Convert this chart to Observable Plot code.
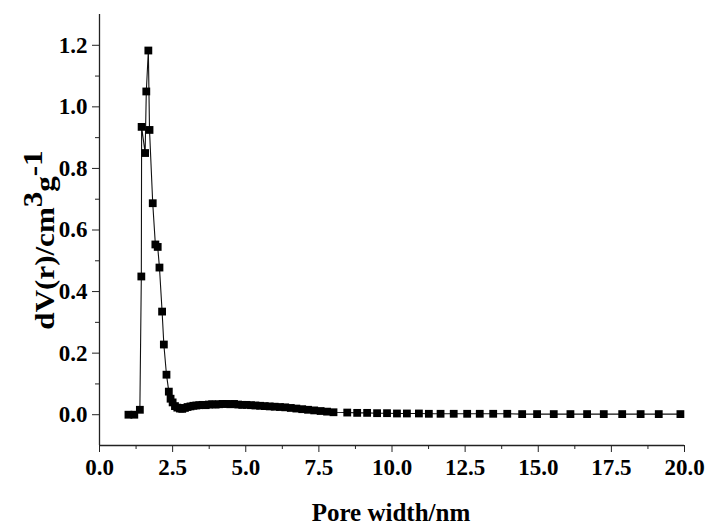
<!DOCTYPE html>
<html><head><meta charset="utf-8">
<script src="https://cdn.jsdelivr.net/npm/d3@7"></script>
<script src="https://cdn.jsdelivr.net/npm/@observablehq/plot@0.6"></script>
<style>body{margin:0;background:#fff} svg{display:block}</style>
</head><body><div id="chart"></div>
<script>
const poreWidth = [0.99, 1.19, 1.38, 1.43, 1.44, 1.56, 1.60, 1.67, 1.71, 1.82, 1.91, 1.99, 2.05, 2.14, 2.20, 2.29, 2.37, 2.43,
  2.50, 2.58, 2.66, 2.75, 2.83, 2.92, 3.01, 3.11, 3.21, 3.31, 3.41, 3.52, 3.63, 3.74, 3.85, 3.97, 4.09, 4.21, 4.34, 4.47, 4.60,
  4.74, 4.88, 5.03, 5.18, 5.33, 5.49, 5.65, 5.82, 5.99, 6.17, 6.35, 6.54, 6.73, 6.93, 7.13, 7.34, 7.56, 7.78, 8.00,
  8.47, 8.81, 9.15, 9.49, 9.83, 10.17, 10.51, 10.92, 11.26, 11.66, 12.11, 12.57, 13.00, 13.46, 13.94, 14.45, 14.96,
  15.53, 16.10, 16.67, 17.24, 17.87, 18.50, 19.12, 19.86];
const dV = [0.000, 0.000, 0.016, 0.449, 0.935, 0.850, 1.050, 1.183, 0.925, 0.687, 0.553, 0.545, 0.478, 0.335, 0.228, 0.130, 0.075, 0.052,
  0.040, 0.028, 0.023, 0.020, 0.019, 0.022, 0.025, 0.027, 0.029, 0.030, 0.031, 0.032, 0.031, 0.033, 0.034, 0.033, 0.034, 0.035, 0.035, 0.034, 0.035,
  0.033, 0.032, 0.032, 0.031, 0.030, 0.029, 0.028, 0.027, 0.026, 0.025, 0.024, 0.022, 0.020, 0.018, 0.016, 0.014, 0.012, 0.010, 0.008,
  0.007, 0.006, 0.006, 0.005, 0.005, 0.004, 0.004, 0.004, 0.003, 0.003, 0.003, 0.003, 0.003, 0.003, 0.003, 0.002, 0.002,
  0.002, 0.002, 0.002, 0.002, 0.002, 0.002, 0.002, 0.002];
const xTicks = [0, 2.5, 5, 7.5, 10, 12.5, 15, 17.5, 20];
const xMinorTicks = [1.25, 3.75, 6.25, 8.75, 11.25, 13.75, 16.25, 18.75];
const yTicks = [0, 0.2, 0.4, 0.6, 0.8, 1.0, 1.2];
const yMinorTicks = [0.1, 0.3, 0.5, 0.7, 0.9, 1.1];
const xLabel = "Pore width/nm";
const yLabelParts = ["dV(r)/cm", "3", "g", "-1"];

const data = poreWidth.map((x, i) => ({x, y: dV[i]}));
const font = "'Liberation Serif', 'Times New Roman', serif";
const fmt = d3.format(".1f");

const plot = Plot.plot({
  width: 710, height: 527,
  marginLeft: 99, marginRight: 26, marginTop: 14, marginBottom: 82,
  style: {fontFamily: font, background: "#fff", color: "#000"},
  x: {domain: [0, 20]},
  y: {domain: [-0.1, 1.3]},
  marks: [
    Plot.axisX(xTicks, {tickSize: 7, tickPadding: 6, tickFormat: fmt, fontSize: 23, fontWeight: "bold", label: null, stroke: "#222"}),
    Plot.axisX(xMinorTicks, {tickSize: 4, tickFormat: () => "", label: null, stroke: "#222"}),
    Plot.axisY(yTicks, {tickSize: 7, tickPadding: 5, tickFormat: fmt, fontSize: 23, fontWeight: "bold", label: null, stroke: "#222"}),
    Plot.axisY(yMinorTicks, {tickSize: 4, tickFormat: () => "", label: null, stroke: "#222"}),
    Plot.ruleX([0], {stroke: "#222", strokeWidth: 1.3}),
    Plot.ruleY([-0.1], {stroke: "#222", strokeWidth: 1.3}),
    Plot.line(data, {x: "x", y: "y", stroke: "#111", strokeWidth: 1.1}),
    Plot.dot(data, {x: "x", y: "y", symbol: "square", r: 4.4, fill: "#000", stroke: "none"})
  ]
});

const svg = d3.select(plot);
svg.append("text")
  .attr("x", 391).attr("y", 521)
  .attr("text-anchor", "middle")
  .attr("font-family", font).attr("font-weight", "bold").attr("font-size", 25)
  .attr("fill", "#000")
  .text(xLabel);
const yl = svg.append("text")
  .attr("transform", "translate(54,240) rotate(-90) scale(1.15,1)")
  .attr("text-anchor", "middle")
  .attr("font-family", font).attr("font-weight", "bold").attr("font-size", 27)
  .attr("fill", "#000");
yl.append("tspan").text(yLabelParts[0]);
yl.append("tspan").attr("dy", -12).text(yLabelParts[1]);
yl.append("tspan").attr("dy", 12).text(yLabelParts[2]);
yl.append("tspan").attr("dy", -12).text(yLabelParts[3]);

document.getElementById("chart").appendChild(plot);
</script>
</body></html>
